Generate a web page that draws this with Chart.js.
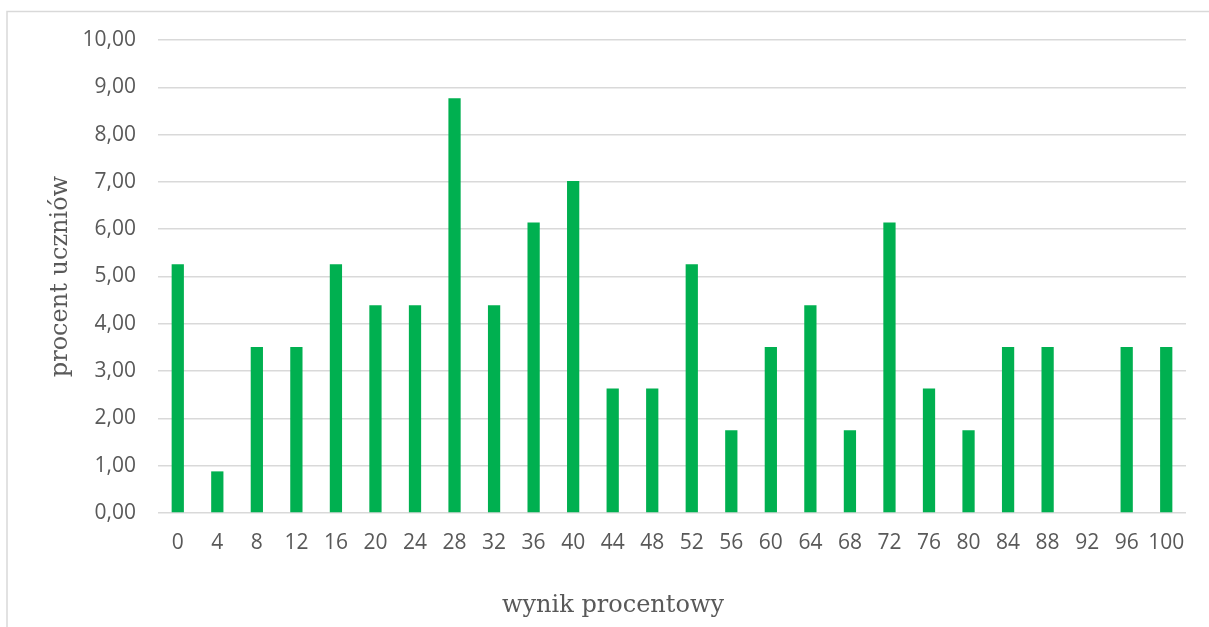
<!DOCTYPE html>
<html><head><meta charset="utf-8">
<script src="https://cdn.jsdelivr.net/npm/chart.js@4/dist/chart.umd.min.js"></script>
<style>html,body{margin:0;padding:0;background:#fff;overflow:hidden}#wrap{width:1209px;height:627px;position:relative}</style>
</head><body><div id="wrap"><canvas id="c" width="1209" height="627"></canvas></div>
<script>
const categories = ['0','4','8','12','16','20','24','28','32','36','40','44','48','52','56','60','64','68','72','76','80','84','88','92','96','100'];
const percentOfStudents = [5.26,0.88,3.51,3.51,5.26,4.39,4.39,8.77,4.39,6.14,7.02,2.63,2.63,5.26,1.75,3.51,4.39,1.75,6.14,2.63,1.75,3.51,3.51,0,3.51,3.51];
const yTitle = 'procent uczniów';
const xTitle = 'wynik procentowy';

const frame = {
  id: 'frame',
  beforeDraw(chart) {
    const ctx = chart.ctx;
    ctx.save();
    ctx.fillStyle = '#fff';
    ctx.fillRect(0, 0, chart.width, chart.height);
    ctx.strokeStyle = '#d9d9d9';
    ctx.lineWidth = 1.5;
    ctx.strokeRect(7, 11.5, 1300, 700);
    ctx.restore();
  },
  afterDraw(chart) {
    const ctx = chart.ctx;
    ctx.save();
    ctx.fillStyle = '#595959';
    ctx.font = '24px "DejaVu Serif"';
    ctx.textAlign = 'center';
    ctx.textBaseline = 'alphabetic';
    ctx.fillText(xTitle, 613, 612);
    ctx.restore();
  }
};

new Chart(document.getElementById('c'), {
  type: 'bar',
  data: {
    labels: categories,
    datasets: [{ data: percentOfStudents, backgroundColor: '#00B050', borderWidth: 0, categoryPercentage: 1, barPercentage: 0.31 }]
  },
  options: {
    responsive: false,
    animation: false,
    layout: { padding: { top: 40, right: 23, left: 0, bottom: 0 } },
    plugins: { legend: { display: false }, tooltip: { enabled: false } },
    scales: {
      x: {
        grid: { display: false, drawTicks: false },
        border: { display: false },
        ticks: { color: '#595959', font: { family: 'Open Sans', size: 21 }, padding: 17, maxRotation: 0, autoSkip: false },
        afterFit(s) { s.height = 114; }
      },
      y: {
        min: 0, max: 10,
        grid: { color: '#d9d9d9', lineWidth: 1.5, drawTicks: false },
        border: { display: false },
        ticks: { stepSize: 1, color: '#595959', font: { family: 'Open Sans', size: 21 }, padding: 22,
          callback: v => Number(v).toFixed(2).replace('.', ',') },
        title: { display: true, text: yTitle, color: '#595959', font: { family: 'DejaVu Serif', size: 24 }, padding: { top: 46, bottom: 0 } },
        afterFit(s) { s.width = 158; }
      }
    }
  },
  plugins: [frame]
});
</script></body></html>
